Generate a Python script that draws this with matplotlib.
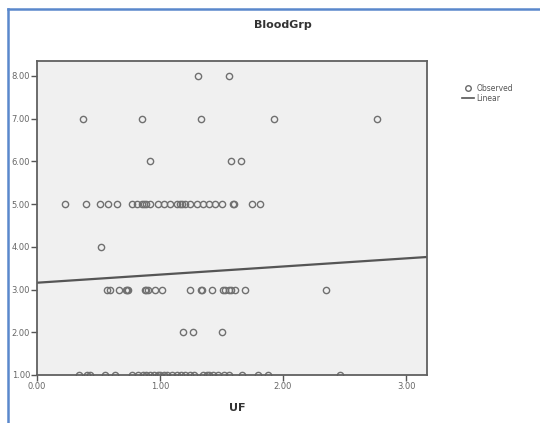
import matplotlib
matplotlib.use("Agg")
import matplotlib.pyplot as plt
from matplotlib.lines import Line2D
import numpy as np

# ---- data ----
uf_8 = [1.31, 1.56]
uf_7 = [0.37, 0.85, 1.33, 1.93, 2.76]
uf_6 = [0.92, 1.58, 1.66]
uf_5 = [0.23, 0.40, 0.51, 0.58, 0.65, 0.77, 0.81, 0.85, 0.87, 0.89, 0.92,
        0.98, 1.03, 1.08, 1.14, 1.16, 1.18, 1.20, 1.24, 1.30, 1.35, 1.40,
        1.45, 1.50, 1.59, 1.60, 1.75, 1.81]
uf_4 = [0.52]
uf_3 = [0.57, 0.59, 0.67, 0.72, 0.73, 0.74, 0.88, 0.89, 0.90, 0.96, 1.02,
        1.24, 1.33, 1.34, 1.42, 1.51, 1.53, 1.56, 1.58, 1.61, 1.69, 2.35]
uf_2 = [1.19, 1.27, 1.50]
uf_1 = [0.34, 0.41, 0.43, 0.55, 0.63, 0.77, 0.82, 0.86, 0.89, 0.92, 0.95,
        0.98, 1.00, 1.03, 1.06, 1.10, 1.14, 1.17, 1.20, 1.24, 1.28, 1.35,
        1.38, 1.40, 1.43, 1.47, 1.52, 1.56, 1.67, 1.80, 1.88, 2.46]
groups = {8: uf_8, 7: uf_7, 6: uf_6, 5: uf_5, 4: uf_4, 3: uf_3, 2: uf_2, 1: uf_1}

# linear fit shown in the chart
fit_intercept = 3.16
fit_slope = 0.19

x_ticks = [0, 1, 2, 3]
y_ticks = [1, 2, 3, 4, 5, 6, 7, 8]

fig = plt.figure(figsize=(5.4, 4.23), dpi=100, facecolor='white')
ax = fig.add_axes([37/540, 1 - 375/423, 390/540, 314/423])
ax.set_facecolor('#f0f0f0')

xs, ys = [], []
for g, vals in groups.items():
    xs += vals
    ys += [g] * len(vals)
ax.plot(xs, ys, linestyle='none', marker='o', markersize=4.5,
        markerfacecolor='none', markeredgecolor='#707070', markeredgewidth=1.0)

xl = np.array([0, 3.17])
ax.plot(xl, fit_intercept + fit_slope * xl, color='#555555', lw=1.6)

ax.set_xlim(0, 3.17)
ax.set_ylim(1.0, 8.35)
ax.set_xticks(x_ticks)
ax.set_xticklabels([f"{v:.2f}" for v in x_ticks])
ax.set_yticks(y_ticks)
ax.set_yticklabels([f"{v:.2f}" for v in y_ticks])
ax.tick_params(direction='out', length=4, width=1, colors='#555555',
               labelsize=6, labelcolor='#666666', pad=1)
for s in ax.spines.values():
    s.set_color('#606060')
    s.set_linewidth(1.3)

fig.text(283/540, 1 - 25/423, 'BloodGrp', ha='center', va='center',
         fontsize=8, fontweight='bold', color='#333333')
fig.text(237/540, 1 - 408/423, 'UF', ha='center', va='center',
         fontsize=8, fontweight='bold', color='#333333')

handles = [Line2D([], [], linestyle='none', marker='o', markersize=4,
                  markerfacecolor='none', markeredgecolor='#6a6a6a'),
           Line2D([], [], color='#555555', lw=1.2)]
fig.legend(handles, ['Observed', 'Linear'], loc='upper left',
           bbox_to_anchor=(458/540, 1 - 80/423), frameon=False,
           fontsize=5.5, handlelength=1.6, handletextpad=0.3,
           labelspacing=0.1, borderpad=0, labelcolor='#555555')

# blue frame around the image
fig.add_artist(Line2D([8/540, 8/540], [0, 1 - 9/423], transform=fig.transFigure,
                      color='#5a88cc', lw=1.8))
fig.add_artist(Line2D([8/540, 1], [1 - 9/423, 1 - 9/423], transform=fig.transFigure,
                      color='#5a88cc', lw=1.8))

fig.savefig('out.png', dpi=100)
